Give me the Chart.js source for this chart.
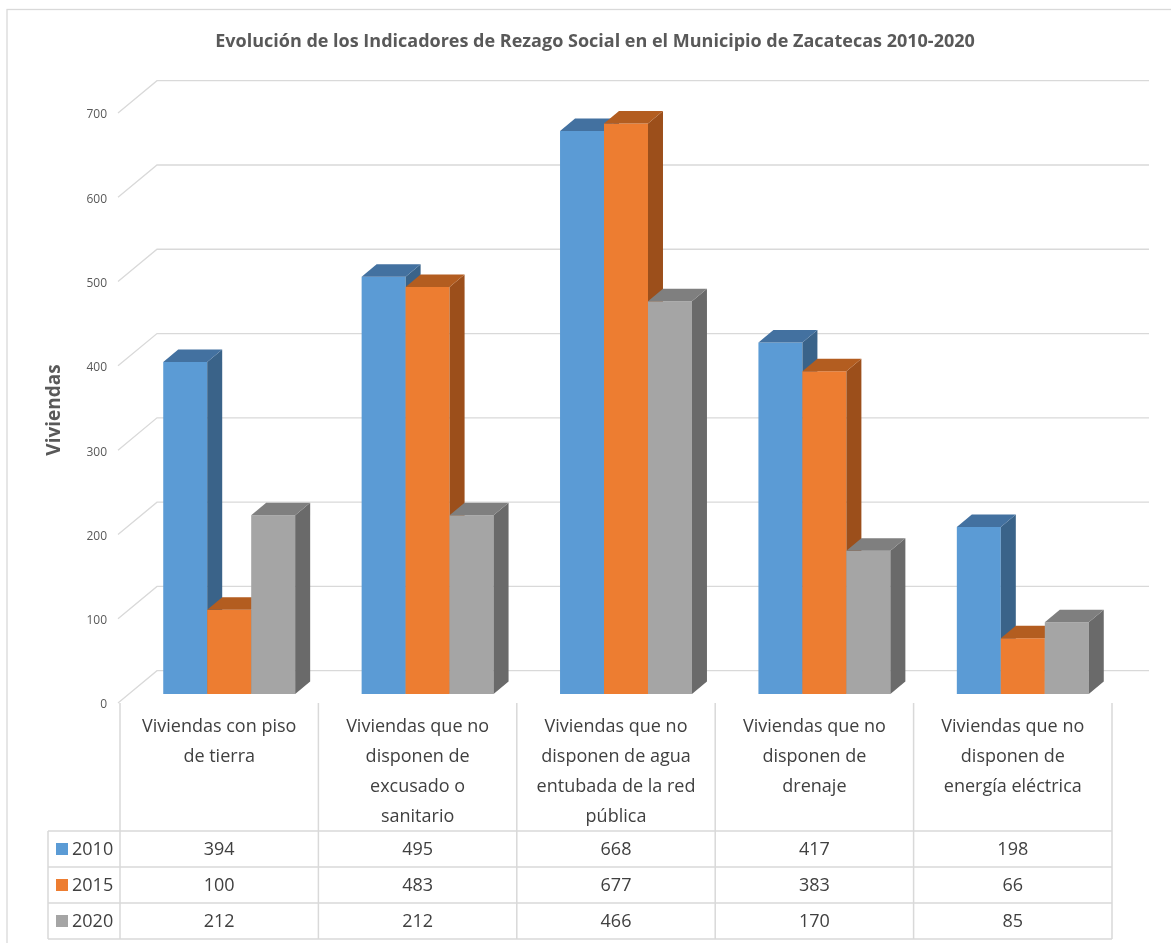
<!DOCTYPE html>
<html lang="es">
<head>
<meta charset="utf-8">
<title>Rezago Social Zacatecas</title>
<script src="https://cdn.jsdelivr.net/npm/chart.js@4.4.1/dist/chart.umd.min.js"></script>
<style>
  html, body { margin: 0; padding: 0; background: #ffffff; }
  canvas { display: block; }
</style>
</head>
<body>
<canvas id="myChart" width="1171" height="943"></canvas>
<script>
// datos del grafico
const categorias = [
  ['Viviendas con piso', 'de tierra'],
  ['Viviendas que no', 'disponen de', 'excusado o', 'sanitario'],
  ['Viviendas que no', 'disponen de agua', 'entubada de la red', 'pública'],
  ['Viviendas que no', 'disponen de', 'drenaje'],
  ['Viviendas que no', 'disponen de', 'energía eléctrica']
];
const anios = ['2010', '2015', '2020'];
const valores2010 = [394, 495, 668, 417, 198];
const valores2015 = [100, 483, 677, 383, 66];
const valores2020 = [212, 212, 466, 170, 85];
const ticksY = [0, 100, 200, 300, 400, 500, 600, 700];

const titulo = 'Evolución de los Indicadores de Rezago Social en el Municipio de Zacatecas 2010-2020';
const tituloEje = 'Viviendas';

// colori: fronte, lato, sopra
const colFronte = ['#5B9BD5', '#ED7D31', '#A5A5A5'];
const colLato = ['#3A6389', '#9C4F1B', '#6A6A6A'];
const colSopra = ['#4371A0', '#B35D20', '#7F7F7F'];

const gridColor = '#D9D9D9';
const testoGrigio = '#595959';
const testoTabella = '#404040';

// profondita finta 3d
const barDx = 15, barDy = -12.5;
const wallDx = 39, wallDy = -32.3;
const frontDx = -12, frontDy = 9;
const shiftTabella = -10;

const plugin3d = {
  id: 'finto3d',
  beforeDraw(chart) {
    const ctx = chart.ctx;
    ctx.save();
    ctx.strokeStyle = gridColor;
    ctx.lineWidth = 1.3;
    ctx.strokeRect(7, 9.5, 1300, 1100);
    ctx.restore();
  },
  beforeDatasetsDraw(chart) {
    const ctx = chart.ctx;
    const area = chart.chartArea;
    const y = chart.scales.y;

    // griglia sul muro di fondo + diagonali a sinistra
    ctx.save();
    ctx.strokeStyle = gridColor;
    ctx.lineWidth = 1.3;
    y.ticks.forEach(t => {
      const py = y.getPixelForValue(t.value);
      ctx.beginPath();
      ctx.moveTo(area.left + frontDx, py + frontDy);
      ctx.lineTo(area.left + frontDx + wallDx, py + frontDy + wallDy);
      ctx.lineTo(area.right + frontDx + wallDx, py + frontDy + wallDy);
      ctx.stroke();
    });
    ctx.restore();

    // barre: per ogni categoria da sinistra a destra, fronte poi lato e sopra
    const metas = chart.getSortedVisibleDatasetMetas();
    for (let j = 0; j < categorias.length; j++) {
      metas.forEach((meta, i) => {
        const bar = meta.data[j];
        const p = bar.getProps(['x', 'y', 'base', 'width'], true);
        const l = p.x - p.width / 2;
        const r = p.x + p.width / 2;
        bar.draw(ctx, area);

        ctx.save();
        ctx.fillStyle = colLato[i];
        ctx.beginPath();
        ctx.moveTo(r, p.y);
        ctx.lineTo(r + barDx, p.y + barDy);
        ctx.lineTo(r + barDx, p.base + barDy);
        ctx.lineTo(r, p.base);
        ctx.closePath();
        ctx.fill();

        ctx.fillStyle = colSopra[i];
        ctx.beginPath();
        ctx.moveTo(l, p.y);
        ctx.lineTo(l + barDx, p.y + barDy);
        ctx.lineTo(r + barDx, p.y + barDy);
        ctx.lineTo(r, p.y);
        ctx.closePath();
        ctx.fill();
        ctx.restore();
      });
    }
    return false;
  },
  afterDraw(chart) {
    const ctx = chart.ctx;
    const area = chart.chartArea;
    const x = chart.scales.x;
    const colW = (area.right - area.left) / categorias.length;
    const bottom = area.bottom;

    // titolo
    ctx.save();
    ctx.fillStyle = testoGrigio;
    ctx.font = 'bold 18px "Open Sans"';
    ctx.textAlign = 'center';
    ctx.textBaseline = 'middle';
    ctx.fillText(titulo, 595, 42);

    // titolo asse y
    ctx.translate(55, 410);
    ctx.rotate(-Math.PI / 2);
    ctx.font = 'bold 19px "Open Sans"';
    ctx.fillText(tituloEje, 0, 0);
    ctx.restore();

    // tabella dati
    const righe = [valores2010, valores2015, valores2020];
    const yHeadTop = bottom + 9;
    const yRow0 = bottom + 137;
    const rowH = 36;
    const left = x.getPixelForValue(0) + shiftTabella - colW / 2;
    const right = x.getPixelForValue(categorias.length - 1) + shiftTabella + colW / 2;
    const legLeft = 48;

    ctx.save();
    ctx.strokeStyle = gridColor;
    ctx.lineWidth = 1.5;
    ctx.beginPath();
    for (let c = 0; c <= categorias.length; c++) {
      const cx = left + c * colW;
      ctx.moveTo(cx, yHeadTop);
      ctx.lineTo(cx, yRow0 + rowH * 3);
    }
    for (let r = 0; r <= 3; r++) {
      ctx.moveTo(legLeft, yRow0 + r * rowH);
      ctx.lineTo(right, yRow0 + r * rowH);
    }
    ctx.moveTo(legLeft, yRow0);
    ctx.lineTo(legLeft, yRow0 + rowH * 3);
    ctx.stroke();

    ctx.fillStyle = testoTabella;
    ctx.font = '18px "Open Sans"';
    ctx.textAlign = 'center';
    ctx.textBaseline = 'middle';
    categorias.forEach((lab, j) => {
      const cx = x.getPixelForValue(j) + shiftTabella;
      lab.forEach((riga, k) => {
        ctx.fillText(riga, cx, bottom + 33 + k * 30);
      });
      righe.forEach((serie, r) => {
        ctx.fillText(String(serie[j]), cx, yRow0 + r * rowH + rowH / 2 + 1);
      });
    });

    // legenda nella tabella
    anios.forEach((a, r) => {
      const cy = yRow0 + r * rowH + rowH / 2;
      ctx.fillStyle = colFronte[r];
      ctx.fillRect(56, cy - 6, 12, 12);
      ctx.fillStyle = testoTabella;
      ctx.textAlign = 'left';
      ctx.fillText(a, 72, cy + 1);
    });
    ctx.restore();
  }
};

const ctx = document.getElementById('myChart').getContext('2d');
const chart = new Chart(ctx, {
  type: 'bar',
  data: {
    labels: categorias,
    datasets: anios.map((a, i) => ({
      label: a,
      data: [valores2010, valores2015, valores2020][i],
      backgroundColor: colFronte[i],
      borderWidth: 0,
      categoryPercentage: 0.665,
      barPercentage: 1
    }))
  },
  options: {
    responsive: false,
    animation: false,
    events: [],
    layout: {
      padding: { top: 104, left: 0, right: 49, bottom: 249 }
    },
    plugins: {
      legend: { display: false },
      title: { display: false },
      tooltip: { enabled: false }
    },
    scales: {
      x: {
        display: false
      },
      y: {
        min: 0,
        max: 700,
        afterFit(scale) { scale.width = 130; },
        afterBuildTicks(scale) { scale.ticks = ticksY.map(v => ({ value: v })); },
        grid: { display: false, drawTicks: false },
        border: { display: false },
        ticks: {
          padding: 23,
          labelOffset: 11,
          color: testoGrigio,
          font: { family: 'Open Sans', size: 12 }
        }
      }
    }
  },
  plugins: [plugin3d]
});
</script>
</body>
</html>
